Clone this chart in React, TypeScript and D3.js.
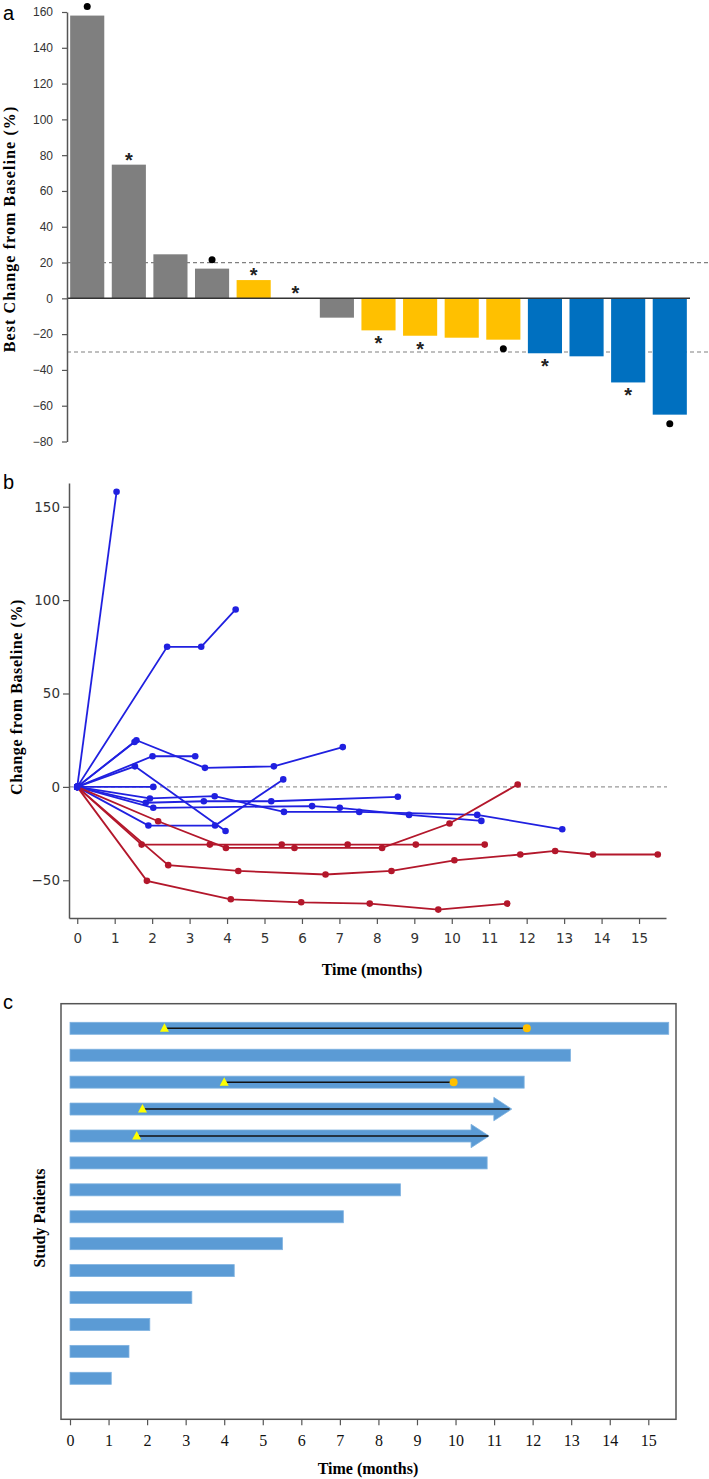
import * as d3 from 'd3';
import { useEffect, useRef } from 'react';

// ---------- panel a: best change from baseline (waterfall) ----------
const bestChange = [158, 74.7, 24.6, 16.6, 10.2, 0, -10.8, -17.9, -20.9, -22, -23.1, -30.7, -32.4, -47, -65];
const bestGroup = ['PD', 'PD', 'PD', 'PD', 'SD', 'SD', 'PD', 'SD', 'SD', 'SD', 'SD', 'PR', 'PR', 'PR', 'PR'];
const bestMark = ['dot', 'star', '', 'dot', 'star', 'star', '', 'star', 'star', '', 'dot', 'star', '', 'star', 'dot'];
const waterfallTicks = [-80, -60, -40, -20, 0, 20, 40, 60, 80, 100, 120, 140, 160];
const thresholds = [20, -30];

// ---------- panel b: change from baseline over time (spider) ----------
const otherPatients: [number, number][][] = [
  [[0, 0], [1.05, 158]],
  [[0, 0], [2.4, 75], [3.31, 75], [4.23, 95]],
  [[0, 0], [1.53, 24]],
  [[0, 0], [1.58, 25], [3.41, 10.2], [5.25, 11], [7.09, 21.3]],
  [[0, 0], [2.01, 16.4], [3.15, 16.4]],
  [[0, 0], [2.03, 0]],
  [[0, 0], [1.54, 11], [3.96, -23.6]],
  [[0, 0], [1.9, -20.7], [3.68, -20.7], [5.5, 4]],
  [[0, 0], [1.83, -8.5], [3.38, -7.7], [5.18, -7.7], [8.56, -5.3]],
  [[0, 0], [1.94, -6.2], [3.67, -5], [5.52, -13.4], [7.53, -13.4], [10.68, -15], [12.95, -22.7]],
  [[0, 0], [2.03, -11.2], [6.27, -10.3], [7.01, -11.2], [8.86, -15], [10.79, -18.2]],
];
const responders: [number, number][][] = [
  [[0, 0], [1.72, -30.9], [3.54, -30.9], [5.46, -30.9], [7.22, -30.9], [9.04, -30.9], [10.88, -30.9]],
  [[0, 0], [2.16, -18.4], [3.97, -32.7], [5.8, -32.7], [8.14, -32.7], [9.94, -19.6], [11.76, 1.3]],
  [[0, 0], [2.43, -41.9], [4.3, -45], [6.63, -46.9], [8.39, -45], [10.07, -39.3], [11.83, -36.2], [12.76, -34.3], [13.77, -36.2], [15.5, -36.2]],
  [[0, 0], [1.86, -50.3], [4.1, -60.2], [5.98, -61.8], [7.81, -62.5], [9.64, -65.7], [11.48, -62.5]],
];
const spiderYTicks = [-50, 0, 50, 100, 150];
const monthTicks = [0, 1, 2, 3, 4, 5, 6, 7, 8, 9, 10, 11, 12, 13, 14, 15];

// ---------- panel c: swimmer plot ----------
const swimEnd = [15.53, 12.98, 11.78, 11.46, 10.87, 10.82, 8.57, 7.09, 5.51, 4.26, 3.16, 2.07, 1.53, 1.07];
const swimOngoing = [false, false, false, true, true, false, false, false, false, false, false, false, false, false];
const respStart = [2.45, null, 4.0, 1.88, 1.73, null, null, null, null, null, null, null, null, null];
const respEnd = [11.85, null, 9.95, 11.4, 10.85, null, null, null, null, null, null, null, null, null];
const respProgressed = [true, false, true, false, false, false, false, false, false, false, false, false, false, false];

const W = 709;
const H = 1479;
const groupColor: Record<string, string> = { PD: '#7f7f7f', SD: '#ffc000', PR: '#0070c0' };
const BLUE = '#2020e0';
const RED = '#b3172b';
const serif = '"Liberation Serif", "Times New Roman", serif';
const sans = '"Liberation Sans", Arial, sans-serif';

function Axis({ axis, transform, font, size, color = '#333', noDomain = false }: any) {
  const ref = useRef<SVGGElement>(null);
  useEffect(() => {
    const g = d3.select(ref.current!);
    g.selectAll('*').remove();
    g.call(axis);
    if (noDomain) g.select('.domain').remove();
    g.select('.domain').attr('stroke', '#555').attr('stroke-width', 1.5);
    g.selectAll('.tick line').attr('stroke', '#555').attr('stroke-width', 1.2);
    g.selectAll('.tick text').attr('font-family', font).attr('font-size', size).attr('fill', color);
  }, [axis]);
  return <g ref={ref} transform={transform} />;
}

export default function App() {
  // panel a scales
  const yA = d3.scaleLinear().domain([-80, 160]).range([441.5, 12]);
  const xA = d3
    .scaleBand<number>()
    .domain(d3.range(bestChange.length))
    .range([66, 691])
    .paddingInner(0.18)
    .paddingOuter(0.1);
  const axisA = d3.axisLeft(yA).tickValues(waterfallTicks).tickSize(5).tickSizeOuter(0).tickPadding(9);

  // panel b scales
  const xB = d3.scaleLinear().domain([-0.22, 15.72]).range([69, 666]);
  const yB = d3.scaleLinear().domain([-70.2, 162.7]).range([918, 483]);
  const axisBY = d3.axisLeft(yB).tickValues(spiderYTicks).tickSize(6).tickSizeOuter(0).tickPadding(3);
  const axisBX = d3
    .axisBottom(xB)
    .tickValues(monthTicks)
    .tickFormat(d3.format('d'))
    .tickSize(6)
    .tickSizeOuter(0)
    .tickPadding(9);
  const line = d3
    .line<[number, number]>()
    .x((d) => xB(d[0]))
    .y((d) => yB(d[1]));

  // panel c scales
  const xC = d3.scaleLinear().domain([0, 15]).range([70, 648.3]);
  const yC = d3.scalePoint<number>().domain(d3.range(swimEnd.length)).range([1028.3, 1378.3]);
  const axisC = d3.axisBottom(xC).tickValues(monthTicks).tickFormat(d3.format('d')).tickSize(6).tickPadding(9);
  const barH = 12;
  const headLen = 18;
  const headHalf = 11.7;

  const starOff = 9;
  const dotOff = 9;

  return (
    <svg width={W} height={H} style={{ position: 'absolute', left: 0, top: 0, background: '#fff' }}>
      <rect width={W} height={H} fill="#fff" />

      {/* ---------------- panel a ---------------- */}
      <text x={3} y={20} fontFamily={sans} fontSize={20}>a</text>
      {thresholds.map((t) => (
        <line key={t} x1={67} x2={W} y1={yA(t)} y2={yA(t)} stroke="#808080" strokeWidth={1.2} strokeDasharray="4,3" />
      ))}
      {bestChange.map((v, i) => (
        <rect
          key={i}
          x={xA(i)}
          width={xA.bandwidth()}
          y={yA(Math.max(0, v))}
          height={Math.abs(yA(v) - yA(0))}
          fill={groupColor[bestGroup[i]]}
        />
      ))}
      <line x1={67} x2={690} y1={yA(0)} y2={yA(0)} stroke="#333" strokeWidth={1.5} />
      {bestChange.map((v, i) => {
        const m = bestMark[i];
        if (!m) return null;
        const cx = xA(i)! + xA.bandwidth() / 2;
        const up = v >= 0;
        if (m === 'dot') {
          const cy = up ? yA(v) - dotOff : yA(v) + dotOff;
          return <circle key={i} cx={cx} cy={cy} r={3.5} fill="#000" />;
        }
        const cy = up ? yA(v) - starOff : yA(v) + starOff;
        return (
          <text key={i} x={cx} y={cy + 11} textAnchor="middle" fontFamily={sans} fontSize={20} fontWeight="bold" fill="#222">
            *
          </text>
        );
      })}
      <Axis axis={axisA} transform="translate(67,0)" font={sans} size={12} />
      <text
        transform="translate(15,229) rotate(-90)"
        textAnchor="middle"
        fontFamily={serif}
        fontWeight="bold"
        fontSize={16}
        letterSpacing={1.1}
      >
        Best Change from Baseline (%)
      </text>

      {/* ---------------- panel b ---------------- */}
      <text x={3} y={489} fontFamily={sans} fontSize={20}>b</text>
      <line x1={69} x2={667} y1={yB(0)} y2={yB(0)} stroke="#999" strokeWidth={1.2} strokeDasharray="4,3" />
      {otherPatients.map((p, i) => (
        <g key={'o' + i}>
          <path d={line(p)!} fill="none" stroke={BLUE} strokeWidth={1.8} />
          {p.map((d, j) => (
            <circle key={j} cx={xB(d[0])} cy={yB(d[1])} r={3.3} fill={BLUE} />
          ))}
        </g>
      ))}
      {responders.map((p, i) => (
        <g key={'r' + i}>
          <path d={line(p)!} fill="none" stroke={RED} strokeWidth={1.8} />
          {p.slice(1).map((d, j) => (
            <circle key={j} cx={xB(d[0])} cy={yB(d[1])} r={3.3} fill={RED} />
          ))}
        </g>
      ))}
      <circle cx={xB(0)} cy={yB(0)} r={3.5} fill={BLUE} />
      <Axis axis={axisBY} transform="translate(69,0)" font="DejaVu Sans, sans-serif" size={13.5} color="#333" />
      <Axis axis={axisBX} transform="translate(0,918)" font="DejaVu Sans, sans-serif" size={13.5} color="#333" />
      <text
        transform="translate(22,697) rotate(-90)"
        textAnchor="middle"
        fontFamily={serif}
        fontWeight="bold"
        fontSize={16}
        letterSpacing={0.6}
      >
        Change from Baseline (%)
      </text>
      <text x={372} y={975} textAnchor="middle" fontFamily={serif} fontWeight="bold" fontSize={16}>
        Time (months)
      </text>

      {/* ---------------- panel c ---------------- */}
      <text x={3} y={1009} fontFamily={sans} fontSize={20}>c</text>
      <rect x={61} y={1003.7} width={615} height={415.6} fill="none" stroke="#555" strokeWidth={1.5} />
      {swimEnd.map((e, i) => {
        const cy = yC(i)!;
        const x0 = xC(0);
        if (swimOngoing[i]) {
          const tip = xC(e);
          const base = tip - headLen;
          const d = `M${x0},${cy - barH / 2}H${base}V${cy - headHalf}L${tip},${cy}L${base},${cy + headHalf}V${cy + barH / 2}H${x0}Z`;
          return <path key={i} d={d} fill="#5b9bd5" stroke="#7fb2e0" strokeWidth={0.8} />;
        }
        return <rect key={i} x={x0} y={cy - barH / 2} width={xC(e) - x0} height={barH} fill="#5b9bd5" stroke="#7fb2e0" strokeWidth={0.8} />;
      })}
      {swimEnd.map((_, i) => {
        const s = respStart[i];
        const e = respEnd[i];
        if (s == null || e == null) return null;
        const cy = yC(i)!;
        const tx = xC(s);
        return (
          <g key={'resp' + i}>
            <line x1={tx} x2={xC(e)} y1={cy} y2={cy} stroke="#111" strokeWidth={1.5} />
            <path d={`M${tx - 4.5},${cy + 3.5}L${tx},${cy - 5}L${tx + 4.5},${cy + 3.5}Z`} fill="#ffff00" />
            {respProgressed[i] && <circle cx={xC(e)} cy={cy} r={4} fill="#ffc000" />}
          </g>
        );
      })}
      <Axis axis={axisC} transform="translate(0,1419.3)" font={serif} size={16} color="#111" noDomain />
      <text
        transform="translate(45,1218) rotate(-90)"
        textAnchor="middle"
        fontFamily={serif}
        fontWeight="bold"
        fontSize={16}
      >
        Study Patients
      </text>
      <text x={368} y={1474} textAnchor="middle" fontFamily={serif} fontWeight="bold" fontSize={16}>
        Time (months)
      </text>
    </svg>
  );
}
